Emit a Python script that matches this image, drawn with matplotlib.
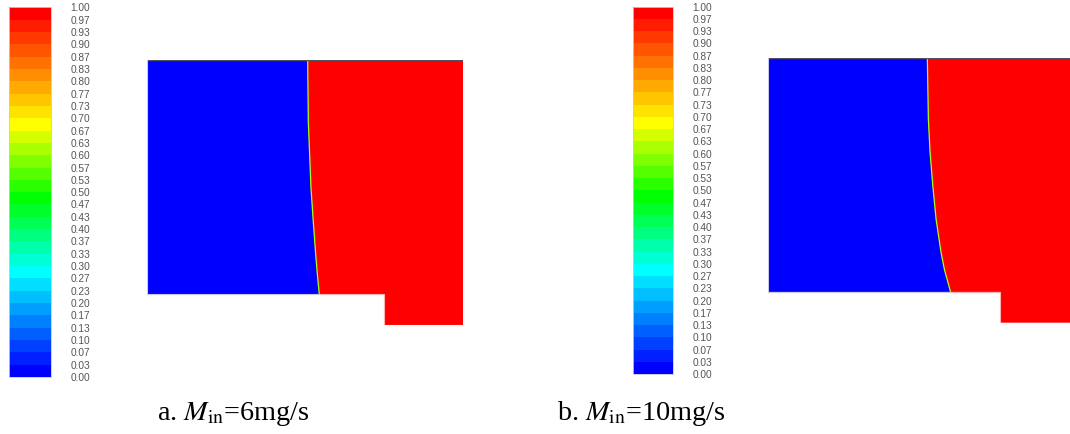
import matplotlib

matplotlib.use("Agg")
import matplotlib.pyplot as plt
import numpy as np
from matplotlib.colors import BoundaryNorm, ListedColormap, hsv_to_rgb
from matplotlib.colorbar import ColorbarBase

# Contour levels of the volume fraction and the labels shown on the legend bar.
levels = np.linspace(0.0, 1.0, 31)
tick_labels = [
    "0.00", "0.03", "0.07", "0.10", "0.13", "0.17", "0.20", "0.23", "0.27", "0.30",
    "0.33", "0.37", "0.40", "0.43", "0.47", "0.50", "0.53", "0.57", "0.60", "0.63",
    "0.67", "0.70", "0.73", "0.77", "0.80", "0.83", "0.87", "0.90", "0.93", "0.97",
    "1.00",
]

# Domain geometry (mm).
domain_width = 40.0
domain_height = 29.6
step_x = 30.0
step_depth = 3.9

# Interface position (x, mm) at several heights (y, mm).
interface_a_y = [29.6, 21.85, 13.42, 9.19, 4.97, 2.4, 0.0]
interface_a_x = [20.30, 20.38, 20.72, 21.01, 21.32, 21.54, 21.77]
interface_b_y = [29.6, 21.9, 17.7, 13.5, 9.2, 5.0, 2.87, 0.0]
interface_b_x = [20.56, 20.69, 20.91, 21.26, 21.69, 22.33, 22.76, 23.56]

captions = [r"a. $M_{\mathrm{in}}$=6mg/s", r"b. $M_{\mathrm{in}}$=10mg/s"]

plt.rcParams["mathtext.fontset"] = "stix"

# Fluent-like banded rainbow: blue -> cyan -> green -> yellow -> red.
# Hue anchors (degrees) at band indices, as seen on the legend.
n_bands = len(levels) - 1
anchor_band = [0, 8, 14, 20, 29]
anchor_hue = [240, 180, 120, 60, 0]
hues = np.interp(np.arange(n_bands), anchor_band, anchor_hue) / 360.0
band_colors = hsv_to_rgb(np.column_stack([hues, np.ones(n_bands), np.ones(n_bands)]))
cmap = ListedColormap(band_colors)
norm = BoundaryNorm(levels, n_bands)

W, H = 1070.0, 434.0
fig = plt.figure(figsize=(W / 100, H / 100), dpi=100)


def px_box(left, top, right, bottom):
    return [left / W, 1 - bottom / H, (right - left) / W, (bottom - top) / H]


def draw_colorbar(box):
    cax = fig.add_axes(px_box(*box))
    cb = ColorbarBase(cax, cmap=cmap, norm=norm, boundaries=levels,
                      ticks=levels, spacing="uniform", orientation="vertical")
    cb.ax.set_yticklabels(tick_labels)
    cb.ax.tick_params(length=0, pad=14, labelsize=7.3, labelcolor="#555555")
    for lab in cb.ax.get_yticklabels():
        lab.set_fontfamily("Liberation Sans")
    cb.outline.set_edgecolor("#c8c8e0")
    cb.outline.set_linewidth(0.6)


def draw_domain(box, xmax, iface_x, iface_y):
    ax = fig.add_axes(px_box(*box))
    ax.set_xlim(0, xmax)
    ax.set_ylim(-step_depth, domain_height)
    ax.set_axis_off()

    blue = cmap(norm(0.0))
    red = cmap(norm(1.0))

    blue_x = [0, 0] + list(iface_x)
    blue_y = [0, domain_height] + list(iface_y)
    ax.fill(blue_x, blue_y, color=blue, lw=0)

    red_x = list(iface_x) + [step_x, step_x, domain_width, domain_width]
    red_y = list(iface_y) + [0, -step_depth, -step_depth, domain_height]
    ax.fill(red_x, red_y, color=red, lw=0)

    # thin mixing layer at the interface
    ax.plot(iface_x, iface_y, color=cmap(norm(0.6)), lw=0.9, solid_capstyle="butt")

    # boundary edges
    ax.plot([0, domain_width], [domain_height, domain_height], color="#505060", lw=1.0)
    ax.plot([0, 0, iface_x[-1]], [domain_height, 0, 0], color="#c8c8e8", lw=0.8)
    ax.plot([iface_x[-1], step_x, step_x, domain_width],
            [0, 0, -step_depth, -step_depth], color="#ffb0b0", lw=0.8)
    return ax


draw_colorbar((9.3, 7.3, 50.7, 377.0))
draw_domain((147.3, 60.0, 463.3, 325.3), domain_width, interface_a_x, interface_a_y)

draw_colorbar((633.3, 6.7, 673.3, 374.0))
draw_domain((768.3, 58.3, 1070.0, 322.7), 39.0, interface_b_x, interface_b_y)

for x0, text in zip([157, 557], captions):
    fig.text(x0 / W, 1 - 420 / H, text, ha="left", va="baseline",
             fontsize=20.3, family="Liberation Serif")

fig.savefig("out.png", dpi=100)
